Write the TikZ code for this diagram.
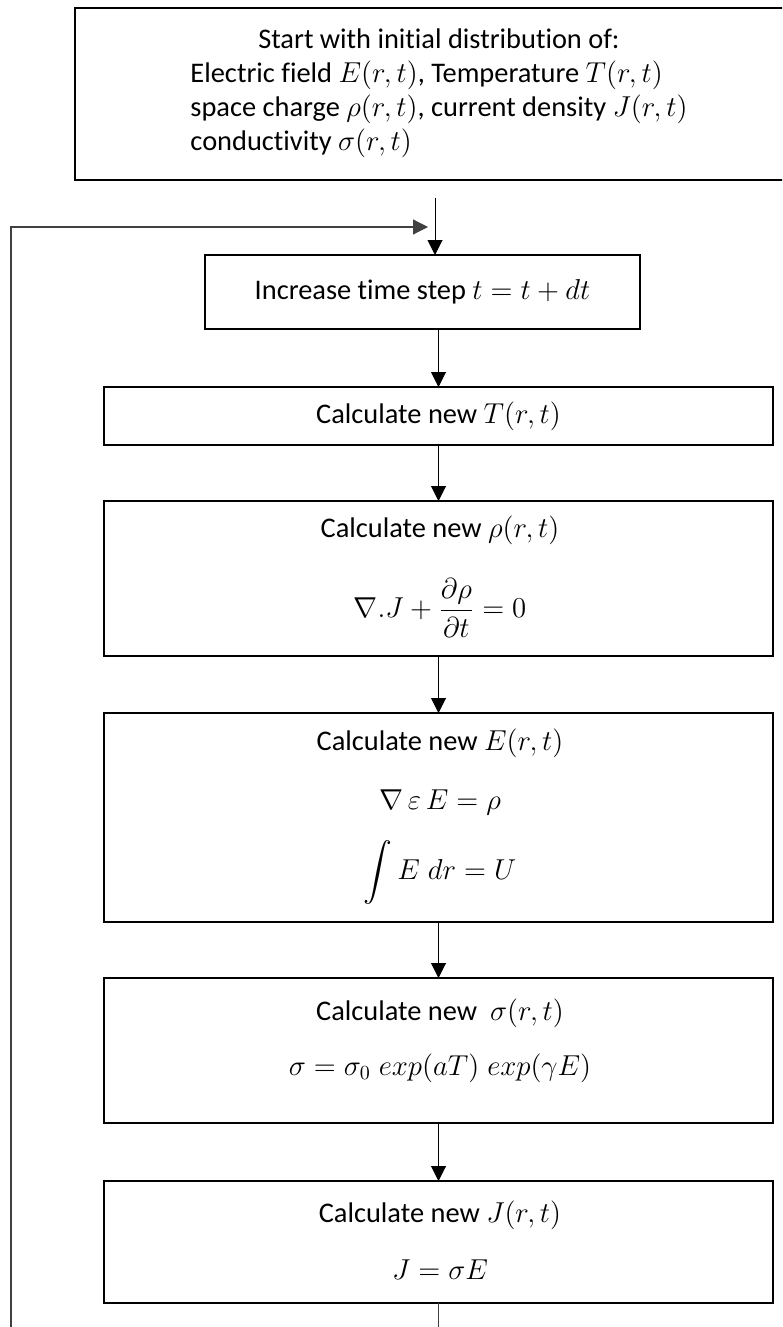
\documentclass[tikz,border=0pt]{standalone}
\usepackage{amsmath}
\usepackage{fontspec}
\setmainfont{Carlito}[RawFeature={-liga,-clig}]
\usetikzlibrary{arrows.meta}
\tikzset{
  box/.style={draw=black, line width=1pt, inner sep=0pt, outer sep=0pt},
  lbl/.style={inner sep=0pt, font=\fontsize{14.2}{17}\selectfont},
  conn/.style={draw=black, line width=0.5pt, -{Triangle[width=7.5pt,length=7.5pt]}},
  loopline/.style={draw=black!75, line width=0.6pt, -{Triangle[width=7.5pt,length=7.5pt]}}
}
\begin{document}
\begin{tikzpicture}[x=0.5pt,y=-0.5pt]
\useasboundingbox (0,0) rectangle (782,1327);
\clip (0,0) rectangle (782,1327);
\fill[white] (0,0) rectangle (782,1327);

% boxes
\node[box, minimum width=364pt, minimum height=86pt] (start) at (439,94) {};
\node[box, minimum width=217.5pt, minimum height=37pt] (inc) at (422.5,292) {};
\node[box, minimum width=334.5pt, minimum height=29pt] (T) at (438.5,416) {};
\node[box, minimum width=334.5pt, minimum height=77.5pt] (rho) at (438.5,578.5) {};
\node[box, minimum width=334.5pt, minimum height=104.5pt] (E) at (438.5,817.5) {};
\node[box, minimum width=334.5pt, minimum height=72.5pt] (sig) at (438.5,1050.5) {};
\node[box, minimum width=334.5pt, minimum height=61pt] (J) at (438.5,1242) {};

% texts
\node[lbl] (starttxt) at (439,93) {\begin{tabular}{@{}l@{}}
\multicolumn{1}{@{}c@{}}{Start with initial distribution of:}\\
Electric field $E(r,t)$, Temperature $T(r,t)$\\
space charge $\rho(r,t)$, current density $J(r,t)$\\
conductivity $\sigma(r,t)$
\end{tabular}};
\node[lbl] (inctxt) at (422.5,292) {Increase time step $t = t + dt$};
\node[lbl] (Ttxt) at (438.5,416) {Calculate new $T(r,t)$};
\node[lbl] (rhotxt) at (440,530) {Calculate new $\rho(r,t)$};
\node[lbl] (rhoeq) at (440,608) {$\nabla . J + \dfrac{\partial\rho}{\partial t} = 0$};
\node[lbl] (Etxt) at (440,743) {Calculate new $E(r,t)$};
\node[lbl] (Eeq1) at (440,802) {$\nabla\,\varepsilon\,E = \rho$};
\node[lbl] (Eeq2) at (440,872) {$\displaystyle\int E\;dr = U$};
\node[lbl] (sigtxt) at (440,1013) {Calculate new\ \ $\sigma(r,t)$};
\node[lbl] (sigeq) at (440,1068) {$\sigma = \sigma_0\; exp(aT)\; exp(\gamma E)$};
\node[lbl] (Jtxt) at (440,1215) {Calculate new $J(r,t)$};
\node[lbl] (Jeq) at (440,1270) {$J = \sigma E$};

% connectors
\coordinate (s0) at (435,198);
\coordinate (lt) at (428,227);
\coordinate (lb) at (11,1360);
\draw[conn] (s0) -- (inc.north -| s0);
\draw[conn] (inc.south -| T.north) -- (T.north);
\draw[conn] (T.south) -- (rho.north);
\draw[conn] (rho.south) -- (E.north);
\draw[conn] (E.south) -- (sig.north);
\draw[conn] (sig.south) -- (J.north);
\draw[loopline] (J.south) |- (lb) |- (lt);
\end{tikzpicture}
\end{document}
